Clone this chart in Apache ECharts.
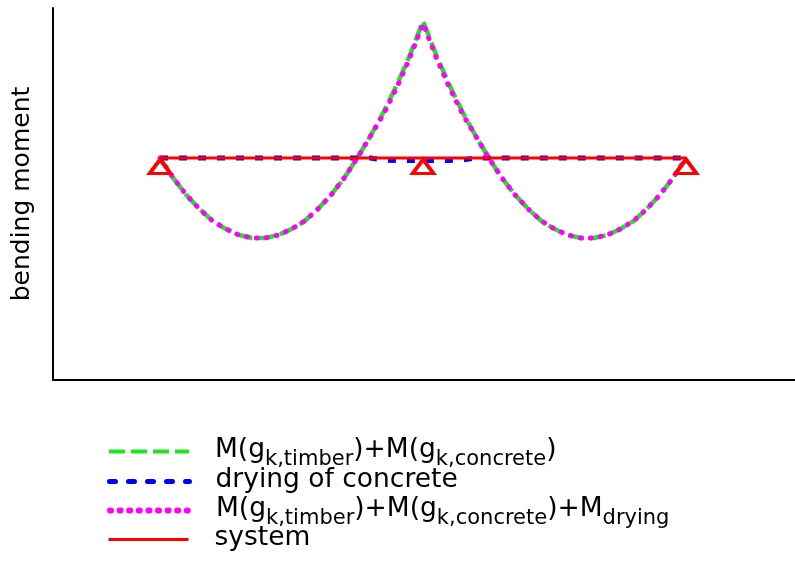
<!DOCTYPE html>
<html>
<head>
<meta charset="utf-8">
<script src="https://cdn.jsdelivr.net/npm/echarts@6/dist/echarts.min.js"></script>
<style>
html,body{margin:0;padding:0;background:#fff;}
#chart{width:795px;height:561px;}
</style>
</head>
<body>
<div id="chart"></div>
<script>
// position along the beam (support at 0, 10, 20)
var xPos = [0,0.5,1,1.5,2,2.5,3,3.5,4,4.5,5,5.5,6,6.5,7,7.5,8,8.5,9,9.5,10,
            10.5,11,11.5,12,12.5,13,13.5,14,14.5,15,15.5,16,16.5,17,17.5,18,18.5,19,19.5,20];
// M(g_k,timber)+M(g_k,concrete)  (hogging drawn upward)
var mDead = [0,-2.0,-3.7,-5.1,-6.3,-7.1,-7.7,-8.0,-8.0,-7.7,-7.1,-6.3,-5.1,-3.7,-2.0,0.0,2.2,4.6,7.3,10.3,13.7,
             10.3,7.3,4.6,2.2,0.0,-2.0,-3.7,-5.1,-6.3,-7.1,-7.7,-8.0,-8.0,-7.7,-7.1,-6.3,-5.1,-3.7,-2.0,0];
// drying of concrete
var mDrying = [0,0,0,0,0,0,0,0,0,0,0,0,0,0,0,0,0,-0.2,-0.25,-0.25,-0.25,
               -0.25,-0.25,-0.2,0,0,0,0,0,0,0,0,0,0,0,0,0,0,0,0,0];
// M(g_k,timber)+M(g_k,concrete)+M_drying
var mTotal = [0,-2.0,-3.7,-5.1,-6.3,-7.1,-7.7,-8.0,-8.0,-7.7,-7.1,-6.3,-5.1,-3.7,-2.0,0.0,2.2,4.4,7.05,10.05,13.45,
              10.05,7.05,4.4,2.2,0.0,-2.0,-3.7,-5.1,-6.3,-7.1,-7.7,-8.0,-8.0,-7.7,-7.1,-6.3,-5.1,-3.7,-2.0,0];
// static system and supports
var systemX = [0, 20];
var systemY = [0, 0];
var supportX = [0, 10, 20];
var supportY = [0, 0, 0];

var names = ['M(gk,timber)+M(gk,concrete)', 'drying of concrete',
             'M(gk,timber)+M(gk,concrete)+Mdrying', 'system'];
var labels = {};
labels[names[0]] = '{g|}{m|M(g}{s|k,timber}{m|)+M(g}{s|k,concrete}{m|)}';
labels[names[1]] = '{g|}{p|drying of concrete}';
labels[names[2]] = '{g|}{m|M(g}{s|k,timber}{m|)+M(g}{s|k,concrete}{m|)+M}{s|drying}';
labels[names[3]] = '{g|}{p|system}';

var styles = [
  {color: '#1ee61e', width: 4.5, type: [16, 6], cap: 'butt'},
  {color: '#0000ff', width: 5, type: [8, 11], cap: 'butt'},
  {color: '#ff00ff', width: 5, type: [1, 9], cap: 'round'},
  {color: '#ff0000', width: 3, type: 'solid', cap: 'butt'}
];
var legendStyles = [
  {color: '#1ee61e', width: 4, type: [16, 6], cap: 'butt'},
  {color: '#0000ff', width: 5, type: [6, 13], cap: 'round'},
  {color: '#ff00ff', width: 6, type: [1, 8.6], cap: 'round'},
  {color: '#ff0000', width: 3, type: 'solid', cap: 'butt'}
];

function pairs(xs, ys){ return xs.map(function(x,i){ return [x, ys[i]]; }); }

var FONT = '"DejaVu Sans", sans-serif';
var rich = {
  g: {width: 21},
  m: {fontSize: 26.5, lineHeight: 29, verticalAlign: 'top', fontFamily: FONT, color: '#000'},
  s: {fontSize: 21, lineHeight: 21, padding: [12,0,0,0], verticalAlign: 'top', fontFamily: FONT, color: '#000'},
  p: {fontSize: 26.5, lineHeight: 29, padding: [0,0,4,0], verticalAlign: 'top', fontFamily: FONT, color: '#000'}
};
var legendTops = [437, 467, 496, 525];
var legends = names.map(function(n, i){
  return {
    data: [n], left: 107, top: legendTops[i], padding: 0, orient: 'vertical',
    itemWidth: 80, itemHeight: 14, selectedMode: false,
    itemStyle: {color: 'rgba(0,0,0,0)', borderWidth: 0, opacity: 0},
    lineStyle: legendStyles[i],
    formatter: function(name){ return labels[name]; },
    textStyle: {rich: rich, fontFamily: FONT}
  };
});

var chart = echarts.init(document.getElementById('chart'), null, {renderer: 'canvas'});
chart.setOption({
  backgroundColor: '#fff',
  animation: false,
  grid: {left: 53, right: 0, top: 8, bottom: 181},
  legend: legends,
  xAxis: {
    type: 'value', min: -4.07, max: 24.14,
    axisLine: {onZero: false, lineStyle: {color: '#000', width: 2}},
    axisTick: {show: false}, axisLabel: {show: false}, splitLine: {show: false}
  },
  yAxis: {
    type: 'value', min: -22.2, max: 15,
    name: 'bending moment', nameLocation: 'middle', nameGap: 18,
    nameTextStyle: {fontSize: 25, fontFamily: FONT, color: '#000'},
    axisLine: {show: true, onZero: false, lineStyle: {color: '#000', width: 2}},
    axisTick: {show: false}, axisLabel: {show: false}, splitLine: {show: false}
  },
  series: [
    {name: names[0], type: 'line', data: pairs(xPos, mDead), symbol: 'none',
     lineStyle: styles[0], itemStyle: {color: styles[0].color}, z: 2},
    {name: names[1], type: 'line', data: pairs(xPos, mDrying), symbol: 'none',
     lineStyle: styles[1], itemStyle: {color: styles[1].color}, z: 3},
    {name: names[2], type: 'line', data: pairs(xPos, mTotal), symbol: 'none',
     lineStyle: styles[2], itemStyle: {color: styles[2].color}, z: 4},
    {name: names[3], type: 'line', data: pairs(systemX, systemY), symbol: 'none',
     lineStyle: styles[3], itemStyle: {color: styles[3].color}, z: 5},
    {name: 'supports', type: 'scatter', data: pairs(supportX, supportY),
     symbol: 'triangle', symbolSize: [21, 14], symbolOffset: [0, 8.5],
     itemStyle: {color: '#ffffff', borderColor: '#ff0000', borderWidth: 3.5, opacity: 1}, z: 6}
  ]
});
</script>
</body>
</html>
